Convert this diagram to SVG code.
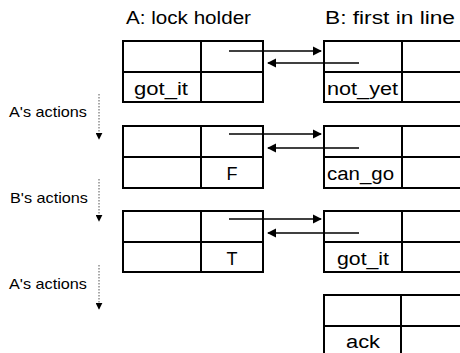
<svg xmlns="http://www.w3.org/2000/svg" width="460" height="353" viewBox="0 0 460 353">
  <defs>
    <marker id="head" viewBox="0 0 10 10" refX="9" refY="5" markerWidth="5.5" markerHeight="5.5" orient="auto" markerUnits="strokeWidth">
      <path d="M0,0 L10,5 L0,10 z" fill="#000"/>
    </marker>
    <marker id="tick" viewBox="0 0 10 10" refX="9" refY="5" markerWidth="7" markerHeight="7" orient="auto" markerUnits="userSpaceOnUse">
      <path d="M0,0 L10,5 L0,10 z" fill="#000"/>
    </marker>
    <style>
      text { font-family: "Liberation Sans", Arial, sans-serif; fill: #000; }
      .title { font-size: 18px; }
      .cell { font-size: 18px; }
      .step { font-size: 15px; }
      .box { fill: #fff; stroke: #000; stroke-width: 2; }
      .grid { stroke: #000; stroke-width: 2; fill: none; }
      .link { stroke: #000; stroke-width: 1.7; fill: none; marker-end: url(#head); }
      .flow { stroke: #555; stroke-width: 1; stroke-dasharray: 1.5 1.5; fill: none; marker-end: url(#tick); }
    </style>
  </defs>

  <rect width="460" height="353" fill="#fff"/>

  <text class="title" x="126" y="24" textLength="125" lengthAdjust="spacingAndGlyphs">A: lock holder</text>
  <text class="title" x="325" y="24" textLength="130" lengthAdjust="spacingAndGlyphs">B: first in line</text>

  <!-- step labels with dotted time arrows -->
  <g id="step1">
    <text class="step" x="9" y="117" textLength="78" lengthAdjust="spacingAndGlyphs">A's actions</text>
    <line class="flow" x1="99" y1="94" x2="99" y2="139"/>
  </g>
  <g id="step2">
    <text class="step" x="10" y="203" textLength="78" lengthAdjust="spacingAndGlyphs">B's actions</text>
    <line class="flow" x1="99" y1="179" x2="99" y2="221"/>
  </g>
  <g id="step3">
    <text class="step" x="9" y="289" textLength="78" lengthAdjust="spacingAndGlyphs">A's actions</text>
    <line class="flow" x1="99" y1="265" x2="99" y2="309"/>
  </g>

  <!-- A's records -->
  <g id="a1">
    <rect class="box" x="123" y="41" width="140" height="61"/>
    <path class="grid" d="M201,41 V102 M123,72 H263"/>
    <text class="cell" x="134" y="95" textLength="54" lengthAdjust="spacingAndGlyphs">got_it</text>
  </g>
  <g id="a2">
    <rect class="box" x="123" y="126" width="140" height="62"/>
    <path class="grid" d="M201,126 V188 M123,157 H263"/>
    <text class="cell" x="232" y="180" text-anchor="middle">F</text>
  </g>
  <g id="a3">
    <rect class="box" x="123" y="211" width="140" height="61"/>
    <path class="grid" d="M201,211 V272 M123,242 H263"/>
    <text class="cell" x="232" y="265" text-anchor="middle">T</text>
  </g>

  <!-- B's records (right side runs off the edge) -->
  <g id="b1">
    <rect class="box" x="324" y="41" width="150" height="61"/>
    <path class="grid" d="M402,41 V102 M324,72 H474"/>
    <text class="cell" x="327" y="95" textLength="71" lengthAdjust="spacingAndGlyphs">not_yet</text>
  </g>
  <g id="b2">
    <rect class="box" x="324" y="126" width="150" height="62"/>
    <path class="grid" d="M402,126 V188 M324,157 H474"/>
    <text class="cell" x="327" y="180" textLength="67" lengthAdjust="spacingAndGlyphs">can_go</text>
  </g>
  <g id="b3">
    <rect class="box" x="324" y="211" width="150" height="61"/>
    <path class="grid" d="M402,211 V272 M324,242 H474"/>
    <text class="cell" x="337" y="265" textLength="52" lengthAdjust="spacingAndGlyphs">got_it</text>
  </g>
  <g id="b4">
    <rect class="box" x="324" y="295" width="150" height="70"/>
    <path class="grid" d="M401,295 V365 M324,326 H474"/>
    <text class="cell" x="346" y="348" textLength="34" lengthAdjust="spacingAndGlyphs">ack</text>
  </g>

  <!-- pointers between the records -->
  <g id="connectors">
    <line class="link" x1="229" y1="51" x2="321" y2="51"/>
    <line class="link" x1="359" y1="63" x2="268" y2="63"/>
    <line class="link" x1="229" y1="134" x2="321" y2="134"/>
    <line class="link" x1="359" y1="148" x2="268" y2="148"/>
    <line class="link" x1="229" y1="219" x2="321" y2="219"/>
    <line class="link" x1="359" y1="233" x2="268" y2="233"/>
  </g>
</svg>
